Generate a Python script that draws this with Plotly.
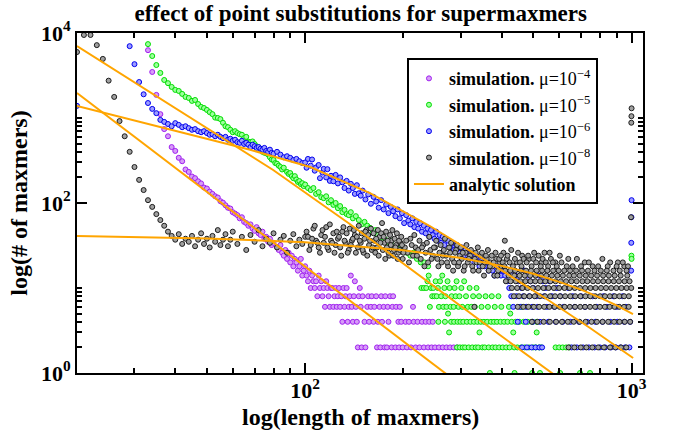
import plotly.graph_objects as go

# ---------------- data (length of maxmer, number of maxmers) ----------------
# mu = 1e-4 (purple)
purple_len = [33, 34, 35, 36, 37, 38, 39, 40, 41, 42, 43,
              44, 45, 46, 47, 48, 49, 50, 51, 52, 53, 54, 55, 56, 57, 58, 59, 60, 61, 62,
              63, 64, 65, 66, 67, 68, 69, 70, 71, 72, 73, 74, 75, 76, 77, 78, 79, 80,
              82, 83, 84, 85, 86, 87, 88, 89, 90, 91, 92, 93, 94, 95, 96, 97, 98, 99, 100,
              101, 102, 103, 104, 105, 106, 107, 108, 109, 110, 111, 112, 113, 114, 115,
              116, 117, 118, 119, 120, 138, 142, 147]
purple_cnt = [6280, 3480, 1870, 1110, 740, 610, 455, 410, 340, 310, 248,
              232, 205, 196, 180, 170, 152, 148, 136, 128, 120, 116, 105, 101, 94, 88, 86, 78, 75, 72,
              66, 68, 60, 58, 54, 56, 50, 47, 52, 44, 42, 46, 38, 40, 35, 38, 32, 34,
              30, 28, 32, 26, 24, 28, 22, 26, 20, 24, 18, 22, 20, 16, 18, 22, 14, 16, 18,
              14, 12, 16, 10, 14, 12, 10, 12, 8, 14, 10, 12, 8, 10, 6,
              12, 10, 8, 6, 10, 14, 12, 10]
purple_row_cnt = [10, 8, 6, 4, 2]
purple_row_len = [
    [121, 124, 127, 131, 134],
    [123, 126, 129, 133, 137, 141, 146, 150, 156, 160, 165, 171, 176, 182, 186],
    [122, 125, 128, 132, 136, 139, 143, 148, 155, 159, 163, 169, 174, 179, 185, 190, 195, 214],
    [130, 135, 140, 144, 152, 157, 162, 167, 172, 180, 193, 197, 203, 208, 215, 221, 228, 234, 240, 246],
    [145, 149, 153, 166, 170, 175, 178, 184, 189, 194, 199, 205, 211, 218, 224, 231, 238, 244, 250,
     257, 264, 271, 278, 285, 292],
]

# mu = 1e-5 (green)
green_len = [33, 34, 35, 36, 37, 38, 39, 40, 41, 42, 43, 44, 45, 46, 47, 48, 49, 50, 51, 52,
             53, 54, 55, 56, 57, 58, 59, 60, 61, 62, 63, 64, 65, 66, 67, 68, 69, 70, 71, 72,
             73, 74, 75, 76, 77, 78, 79, 80, 81, 82, 83, 84, 85, 86,
             88, 89, 90, 91, 92, 93, 94, 95, 96, 97, 98, 99, 100, 102, 104, 106, 108, 110,
             112, 114, 116, 118, 120, 122, 124, 126, 128, 130, 132, 134, 136, 138, 140, 143,
             146, 149, 152, 155, 158, 161, 164, 167, 170, 173, 176, 180, 184, 188, 192, 196,
             200, 205, 210, 215, 220, 226, 232, 238, 274, 425, 276, 342, 434, 512, 999, 1000]
green_cnt = [7400, 5360, 4200, 3390, 2800, 2570, 2320, 2140, 2080, 1920, 1770, 1720, 1590, 1630,
             1460, 1350, 1310, 1245, 1170, 1110, 1010, 1000, 970, 880, 800, 780, 727, 680, 700,
             665, 645, 635, 580, 600, 525, 520, 530, 495, 465, 455, 424, 400, 390, 385, 371, 345,
             324, 320, 295, 290, 275, 265, 248, 260,
             232, 220, 225, 207, 196, 207, 189, 177, 181, 167, 171, 158, 165, 150, 142, 150, 128,
             134, 117, 114, 120, 102, 108, 95, 100, 87, 92, 78, 83, 74, 72, 78, 66, 70,
             63, 56, 60, 54, 51, 45, 48, 42, 39, 41, 37, 34, 36, 31, 29, 32,
             28, 26, 24, 26, 22, 20, 20, 18, 5, 5, 3, 3, 3, 3, 24, 22]
green_row_cnt = [14, 12, 10, 8, 6, 4, 2, 1]
green_row_len = [
    [239, 263],
    [237, 251, 259, 273, 291, 307],
    [227, 231, 235, 243, 247, 255, 267, 277, 287, 301, 319, 335],
    [245, 249, 253, 261, 269, 281, 289, 297, 311, 327, 341, 357, 373, 391],
    [241, 257, 265, 271, 279, 285, 295, 303, 315, 323, 331, 347, 363, 381, 399, 421, 461],
    [256, 268, 280, 286, 293, 299, 305, 313, 321, 329, 337, 345, 353, 361, 371, 379, 387, 397,
     407, 417, 429, 441, 453, 467, 481, 497, 513],
    [292, 298, 304, 309, 317, 325, 333, 339, 349, 355, 365, 375, 383, 393, 403, 413, 423, 437,
     447, 459, 471, 485, 499, 509, 521, 529, 585, 600, 615, 630, 645],
    [368, 438, 496, 524, 604, 695, 746],
]

# mu = 1e-6 (blue)
blue_len = [20, 29, 30, 31, 32, 33, 34, 35, 36, 37,
            38, 39, 40, 41, 42, 43, 44, 45, 46, 47, 48, 49, 50, 51, 52, 53, 54, 55, 56, 57, 58,
            59, 60, 61, 62, 63, 64, 65, 66, 67, 68, 69, 70, 71, 72, 73, 74, 75, 76, 77, 78, 79,
            80, 82, 84, 86, 88, 90, 92, 94, 96, 98, 100,
            101, 102, 104, 105, 107, 108, 110, 111, 113, 114, 116, 117, 119, 120, 122, 124, 126,
            128, 130, 132, 134, 136, 138, 140, 142, 144, 146, 148, 150, 153, 156, 159, 162, 165,
            168, 171, 174, 177, 180, 183, 186, 189, 192, 195, 198,
            201, 204, 207, 210, 213, 216, 219, 222, 225, 228, 231, 234, 237, 240, 243, 246, 249,
            252, 255, 258, 261, 264, 267, 270, 274, 278, 282, 286, 290, 294, 298, 302, 306, 310,
            314, 318, 322, 326, 330, 334, 338, 342, 346, 350, 355, 360, 365, 370, 375, 380, 386,
            392, 398, 997, 998, 999, 1000]
blue_cnt = [1390, 7000, 4300, 2650, 1900, 1500, 1280, 1140, 950, 900,
            850, 800, 870, 830, 780, 800, 760, 727, 740, 700, 680, 700, 665, 635, 645, 610, 635,
            600, 580, 600, 555, 570, 540, 555, 520, 510, 540, 495, 510, 485, 455, 485, 465, 445,
            455, 435, 424, 445, 410, 400, 424, 390, 380, 400, 371, 345, 355, 340, 320, 330, 310,
            295, 300,
            260, 330, 275, 325, 240, 262, 280, 196, 228, 252, 200, 250, 182, 209, 180, 214, 170,
            200, 175, 150, 182, 140, 168, 150, 128, 162, 130, 122, 140, 110, 126, 98, 118, 104,
            88, 108, 84, 96, 76, 90, 80, 70, 84, 66, 76,
            58, 72, 62, 56, 66, 52, 60, 50, 58, 46, 54, 44, 50, 40, 48, 42, 38,
            46, 36, 42, 34, 40, 32, 38, 36, 30, 34, 28, 32, 30, 26, 30, 24, 28,
            26, 22, 26, 24, 20, 24, 22, 18, 22, 20, 18, 20, 16, 18, 16, 14, 18,
            16, 14, 16, 34, 68, 108]
blue_row_cnt = [16, 14, 12, 10, 8, 6, 4, 2]
blue_row_len = [
    [404, 430, 470],
    [410, 440, 480, 520],
    [416, 450, 490, 535, 560],
    [422, 460, 500, 545, 590, 640],
    [428, 444, 466, 486, 510, 540, 570, 605, 660, 700, 760, 820, 880, 940],
    [434, 456, 476, 496, 516, 550, 580, 620, 670, 720, 780, 840, 900, 960],
    [448, 474, 498, 524, 556, 586, 615, 650, 690, 730, 775, 815, 860, 905, 950, 990],
    [462, 478, 494, 508, 522, 532, 655, 680, 710, 740, 770, 800, 830, 865, 895, 925, 955, 985],
]

# mu = 1e-8 (black)
black_len = [20, 21, 22, 23, 24, 25, 26, 27, 28, 29, 30,
             31, 32, 33, 34, 35, 36, 37, 38, 39, 40, 41, 42, 43, 44, 45, 46, 47, 48, 49, 50,
             51, 52, 53, 54, 55, 56, 57, 58, 59, 60, 62, 64, 66, 68, 70, 72, 74, 76, 78, 80,
             82, 84, 86, 88, 90, 92, 94, 96, 98, 100,
             102, 104, 106, 108, 110, 112, 114, 116, 118, 120, 122, 124, 126, 128, 130, 133,
             136, 139, 142, 145, 148, 151, 154, 157, 160, 163, 166, 169, 172, 175, 178, 181,
             184, 187, 190, 193, 196, 199, 202, 206, 210, 214, 218, 222, 226, 230, 234, 238,
             242, 246, 250, 254, 258, 262, 266, 270, 274, 278, 282, 286, 290, 294, 298, 302,
             306, 310, 315, 320, 325, 331, 335, 340, 345, 350, 355, 360, 365, 370, 375, 380,
             385, 390, 395, 400,
             405, 409, 415, 428, 445, 462, 485, 503, 530, 541, 561, 584, 603, 640, 680, 719,
             760, 814, 860, 908, 950,
             996, 998, 999, 1000]
black_cnt = [5970, 9480, 9480, 7200, 4960, 2750, 1770, 920, 610, 400, 265,
             187, 142, 108, 90, 74, 63, 54, 46, 41, 37, 43, 33, 38, 35, 41, 31, 37, 44, 33, 38,
             30, 41, 35, 48, 32, 37, 43, 31, 37, 46, 33, 40, 28, 42, 35, 48, 31, 38, 34, 44,
             30, 37, 41, 26, 36, 43, 31, 37, 33, 40,
             40, 32, 50, 36, 30, 42, 34, 52, 28, 36, 44, 32, 38, 30, 46, 34,
             28, 36, 42, 30, 34, 26, 48, 32, 28, 36, 30, 40, 58, 34, 30, 24,
             36, 28, 32, 26, 34, 22, 30, 26, 38, 24, 30, 28, 22, 32, 26, 20,
             28, 24, 30, 22, 26, 20, 28, 24, 18, 26, 22, 20, 28, 18, 24, 22,
             16, 26, 20, 24, 18, 22, 20, 16, 24, 18, 20, 22, 16, 20, 18, 14,
             22, 16, 20, 18,
             26, 36, 22, 28, 20, 24, 22, 26, 20, 26, 26, 20, 24, 22, 22, 20,
             18, 22, 20, 20, 18,
             68, 880, 1050, 1300]
# further black points filling the dense cloud between lengths 100 and 1000
black_more_len = [101, 103, 105, 107, 109, 111, 113, 115, 117, 119, 121, 123, 125, 127, 129,
                  131, 132, 134, 135, 137, 138, 140, 141, 143, 144, 146, 147, 149, 150, 152,
                  153, 155, 156, 158, 159, 161, 162, 164, 165, 167, 168, 170, 171, 173, 174,
                  176, 177, 179, 180, 182, 183, 185, 186, 188, 189, 191, 192, 194, 195, 197,
                  198, 200, 204, 208, 212, 216, 220, 224, 228, 232, 236, 240, 244, 248, 252,
                  256, 260, 264, 268, 272, 276, 280, 284, 288, 292, 296, 300, 304, 308, 312,
                  317, 322, 327, 333, 338, 343, 348, 353, 358, 363, 368, 373, 378, 383, 388,
                  393, 398, 403, 408, 417, 423, 433, 439, 449, 455, 460, 467, 477, 482, 494,
                  500, 510, 519, 527, 534, 546, 555, 566, 574, 590, 610, 633, 660, 700, 740,
                  790, 845, 900, 940, 975]
black_more_cnt = [46, 28, 38, 54, 34, 26, 48, 40, 30, 56, 34, 26, 46, 40, 24,
                  52, 36, 44, 26, 50, 32, 38, 48, 26, 40, 54, 36, 44, 28, 38,
                  46, 24, 42, 36, 50, 30, 44, 26, 38, 48, 24, 34, 44, 28, 40,
                  22, 46, 36, 26, 42, 32, 48, 24, 38, 30, 44, 22, 36, 28, 40,
                  32, 26, 36, 20, 32, 42, 24, 36, 30, 18, 34, 40, 22, 30, 36,
                  18, 32, 24, 38, 20, 30, 34, 16, 26, 32, 20, 30, 26, 18, 32,
                  22, 28, 16, 26, 30, 20, 26, 14, 24, 28, 18, 24, 20, 26, 14,
                  22, 24, 20, 18, 24, 20, 18, 22, 26, 20, 18, 22, 20, 24, 18,
                  22, 20, 24, 18, 22, 20, 18, 22, 20, 18, 20, 18, 18, 18, 20,
                  18, 18, 18, 20, 18]
black_row_cnt = [16, 14, 12, 10, 8, 6, 4, 2]
black_row_len = [
    [410, 425, 440, 458, 475, 492, 512, 532, 552, 575, 598, 622, 648, 676, 705, 735, 770, 805,
     840, 880, 920, 965],
    [420, 437, 454, 471, 489, 508, 528, 548, 570, 592, 616, 644, 666, 694, 724, 752, 784, 818,
     852, 888, 926, 970],
    [412, 426, 442, 457, 473, 490, 507, 525, 544, 564, 585, 607, 630, 654, 679, 707, 732, 762,
     789, 819, 850, 882, 915, 952, 986],
    [430, 446, 463, 480, 498, 517, 537, 557, 578, 600, 623, 646, 670, 695, 721, 748, 776, 806,
     835, 866, 898, 931, 966, 998],
    [436, 452, 469, 487, 505, 524, 543, 563, 583, 604, 626, 649, 672, 697, 722, 747, 774, 801,
     829, 858, 888, 918, 949, 981],
    [330, 448, 466, 483, 502, 521, 540, 560, 581, 602, 624, 647, 671, 696, 720, 746, 773, 800,
     828, 857, 887, 917, 948, 980],
    [495, 515, 538, 562, 587, 612, 638, 665, 693, 723, 754, 783, 815, 848, 884, 919, 953, 990],
    [641, 668, 699, 727, 758, 790, 823, 859, 892, 928, 963],
]

# analytic solutions
ana_mu4_len = [20, 100, 300]
ana_mu4_cnt = [1968, 17.9, 0.72]
ana_mu5_len = [20, 33.5, 47.7, 79.8, 137, 195, 292, 395, 570, 800]
ana_mu5_cnt = [7030, 2023, 850, 244.5, 56.6, 20.8, 6.48, 2.80, 1.0, 0.387]
ana_mu6_len = [20, 33.5, 67.8, 103.6, 158, 241, 368, 555, 746, 1011]
ana_mu6_cnt = [1384, 838, 423, 265, 131, 53.6, 19.7, 7.22, 3.38, 1.50]
ana_mu8_len = [20, 50, 100, 200, 300, 400, 500, 600, 700, 800, 900, 1010]
ana_mu8_cnt = [40.9, 38.3, 34.5, 27.8, 22.5, 18.2, 14.7, 11.8, 9.56, 7.72, 6.23, 4.92]

x_tick_vals = [100, 1000]
x_tick_text = ["10<sup>2</sup>", "10<sup>3</sup>"]
y_tick_vals = [1, 100, 10000]
y_tick_text = ["10<sup>0</sup>", "10<sup>2</sup>", "10<sup>4</sup>"]
x_minor_vals = [30, 40, 50, 60, 70, 80, 90, 200, 300, 400, 500, 600, 700, 800, 900]
y_minor_vals = [2, 3, 4, 5, 6, 7, 8, 9, 10, 200, 300, 400, 500, 600, 700, 800, 900, 1000]


def expand(lens, cnts, row_cnt, row_len):
    assert len(lens) == len(cnts), (len(lens), len(cnts))
    xs, ys = list(lens), list(cnts)
    for c, ls in zip(row_cnt, row_len):
        xs += ls
        ys += [c] * len(ls)
    return xs, ys


assert len(black_more_len) == len(black_more_cnt), (len(black_more_len), len(black_more_cnt))

SERIF = "Liberation Serif, Times New Roman, serif"

series = [
    ("<b>simulation.</b> μ=10<sup>−4</sup>", purple_len, purple_cnt, purple_row_cnt, purple_row_len, "#a020f0", "#d69cf7"),
    ("<b>simulation.</b> μ=10<sup>−5</sup>", green_len, green_cnt, green_row_cnt, green_row_len, "#00dd00", "#9cff9c"),
    ("<b>simulation.</b> μ=10<sup>−6</sup>", blue_len, blue_cnt, blue_row_cnt, blue_row_len, "#0000ee", "#9c9cff"),
    ("<b>simulation.</b> μ=10<sup>−8</sup>", black_len + black_more_len, black_cnt + black_more_cnt,
     black_row_cnt, black_row_len, "#1c1c1c", "#a0a0a0"),
]

fig = go.Figure()
for name, ln, cn, rc, rl, edge, fill in series:
    xs, ys = expand(ln, cn, rc, rl)
    fig.add_trace(go.Scatter(
        x=xs, y=ys, mode="markers", name=name,
        marker=dict(symbol="circle", size=5, color=fill, line=dict(color=edge, width=1)),
    ))

first = True
for ln, cn in [(ana_mu4_len, ana_mu4_cnt), (ana_mu5_len, ana_mu5_cnt),
               (ana_mu6_len, ana_mu6_cnt), (ana_mu8_len, ana_mu8_cnt)]:
    assert len(ln) == len(cn)
    fig.add_trace(go.Scatter(
        x=ln, y=cn, mode="lines", name="<b>analytic solution</b>",
        line=dict(color="#ffa500", width=2), showlegend=first, legendgroup="ana",
    ))
    first = False

axis_common = dict(
    showline=True, linewidth=2, linecolor="black", mirror="ticks",
    ticks="inside", ticklen=10, tickwidth=2, tickcolor="black",
    showgrid=False, zeroline=False,
    tickfont=dict(family=SERIF, size=22, color="black", weight="bold"),
)

fig.update_xaxes(
    type="log", range=[1.30103, 3.035],
    tickmode="array", tickvals=x_tick_vals, ticktext=x_tick_text,
    ticklabelstandoff=-3,
    minor=dict(ticks="inside", ticklen=5, tickwidth=1.5, tickcolor="black",
               tickmode="array", tickvals=x_minor_vals),
    **axis_common,
)
fig.update_yaxes(
    type="log", range=[0, 4],
    tickmode="array", tickvals=y_tick_vals, ticktext=y_tick_text,
    minor=dict(ticks="inside", ticklen=5, tickwidth=1.5, tickcolor="black",
               tickmode="array", tickvals=y_minor_vals),
    title=dict(text="<b>log(# of maxmers)</b>", standoff=6,
               font=dict(family=SERIF, size=24, color="black")),
    **axis_common,
)

fig.add_annotation(
    text="<b>log(length of maxmers)</b>", xref="paper", yref="paper",
    x=0.5, y=-0.13, xanchor="center", yanchor="middle", showarrow=False,
    font=dict(family=SERIF, size=24, color="black"),
)

fig.update_layout(
    width=678, height=435,
    margin=dict(l=77, r=35, t=33, b=62),
    paper_bgcolor="white", plot_bgcolor="white",
    title=dict(text="<b>effect of point substitutions for supermaxmers</b>",
               x=0.532, xanchor="center", y=0.97, yanchor="middle", yref="container",
               font=dict(family=SERIF, size=23, color="black")),
    legend=dict(x=0.583, y=0.926, xanchor="left", yanchor="top",
                bgcolor="white", bordercolor="black", borderwidth=2,
                font=dict(family=SERIF, size=18, color="black"),
                tracegroupgap=0, itemsizing="trace"),
    showlegend=True,
)

fig.write_html("out.html")
